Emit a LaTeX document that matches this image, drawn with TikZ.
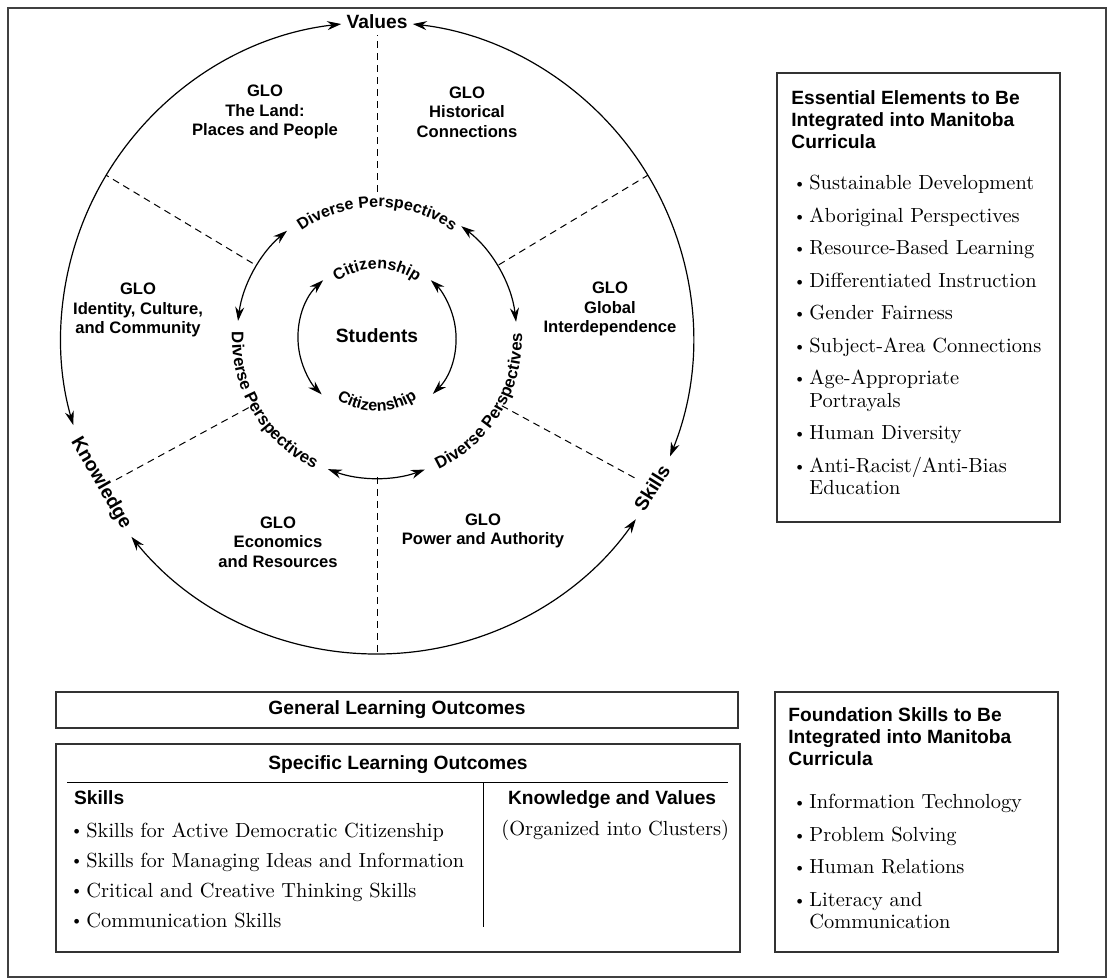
\documentclass[tikz,border=0pt]{standalone}
\usepackage{fontspec}
\setsansfont{Liberation Sans}
\usetikzlibrary{positioning, arrows.meta, decorations.text}

\newcommand{\itm}{\makebox[8pt][l]{\raisebox{0.12ex}{\scalebox{0.8}{\textbullet}}}}
\newcommand{\ind}{\makebox[8pt]{}}
\newcommand{\arcfont}{\sffamily\bfseries\fontsize{8}{9}\selectfont}
\newcommand{\sidefont}{\sffamily\bfseries\fontsize{8.4}{9}\selectfont}

\begin{document}
\begin{tikzpicture}[x=0.5pt, y=0.5pt, >={Stealth[length=7pt,width=4.5pt]},
    ring/.style={line width=0.6pt, <->},
    spoke/.style={line width=0.5pt, dash pattern=on 3.5pt off 2.5pt},
    box/.style={draw=black!80, line width=0.8pt},
    head/.style={font=\sffamily\bfseries\fontsize{9.6}{11}\selectfont},
    glo/.style={align=center, font=\sffamily\bfseries\fontsize{8.3}{9.75}\selectfont},
    list/.style={align=left, inner sep=0pt, anchor=north west},
    arclabel/.style={decorate, decoration={text along path, text align=center, text={|\arcfont|#1}}},
    sidelabel/.style={decorate, decoration={text along path, text align=center, text={|\sidefont|#1}}}]
    \useasboundingbox (0,0) rectangle (1109,980);
    \draw[line width=0.6pt, black!75] (8,3) rectangle (1106,972);

    \coordinate (c) at (377,642);

    % outer ring
    \node[head] (val) at ([shift={(90:316)}]c) {Values};
    \node[head, rotate=-60] (know) at ([shift={(207.7:312)}]c) {Knowledge};
    \node[head, rotate=58] (skl) at ([shift={(-28.6:313)}]c) {Skills};
    \draw[ring] ([shift={(96.5:316)}]c) arc[start angle=96.5, end angle=196, radius=316];
    \draw[ring] ([shift={(219:316)}]c) arc[start angle=219, end angle=325, radius=316];
    \draw[ring] ([shift={(-22:316)}]c) arc[start angle=-22, end angle=83.5, radius=316];

    % dashed spokes
    \foreach \a/\r/\R in {90/146/303, 149/145/316, 31/142/316, 208.5/146/302, 331.5/142/298, 270/139/318}
        \draw[spoke] ([shift={(\a:\r)}]c) -- ([shift={(\a:\R)}]c);

    % diverse perspectives ring
    \draw[ring] ([shift={(130:140)}]c) arc[start angle=130, end angle=173, radius=140];
    \draw[ring] ([shift={(249.5:140)}]c) arc[start angle=249.5, end angle=290, radius=140];
    \draw[ring] ([shift={(6.6:140)}]c) arc[start angle=6.6, end angle=53, radius=140];
    \path[arclabel=Diverse Perspectives] ([shift={(150:131)}]c) arc[start angle=150, end angle=30, radius=131];
    \path[sidelabel=Diverse Perspectives] ([shift={(151:145)}]c) arc[start angle=151, end angle=271, radius=145];
    \path[sidelabel=Diverse Perspectives] ([shift={(268.5:145)}]c) arc[start angle=268.5, end angle=388.5, radius=145];

    % citizenship ring
    \draw[ring] ([shift={(133:79)}]c) arc[start angle=133, end angle=225.5, radius=79];
    \draw[ring] ([shift={(-45:79)}]c) arc[start angle=-45, end angle=47, radius=79];
    \path[arclabel=Citizenship] ([shift={(150:69)}]c) arc[start angle=150, end angle=30, radius=69];
    \path[arclabel=Citizenship] ([shift={(210:73)}]c) arc[start angle=210, end angle=330, radius=73];
    \node[head] (stu) at (377,644) {Students};

    % GLO sectors
    \node[glo] (land) at (265,868) {GLO\\The Land:\\Places and People};
    \node[glo] (hist) at (467,868) {GLO\\Historical\\Connections};
    \node[glo] (iden) at (138,670) {GLO\\Identity, Culture,\\and Community};
    \node[glo] (glob) at (610,671) {GLO\\Global\\Interdependence};
    \node[glo] (econ) at (278,438) {GLO\\Economics\\and Resources};
    \node[glo] (powr) at (483,449) {GLO\\Power and Authority};

    % essential elements
    \draw[box] (777,907) rectangle (1060,458);
    \node[head, list] (esshd) at (791,890) {Essential Elements to Be\\Integrated into Manitoba\\Curricula};
    \node[list, font=\fontsize{10.2}{11.25}\selectfont] (esslst) at (793,805) {%
        \itm Sustainable Development\\[5pt]
        \itm Aboriginal Perspectives\\[5pt]
        \itm Resource-Based Learning\\[5pt]
        \itm Differentiated Instruction\\[5pt]
        \itm Gender Fairness\\[5pt]
        \itm Subject-Area Connections\\[5pt]
        \itm Age-Appropriate\\\ind Portrayals\\[5pt]
        \itm Human Diversity\\[5pt]
        \itm Anti-Racist/Anti-Bias\\\ind Education};

    % outcomes
    \draw[box] (56,288) rectangle (738,252);
    \node[head] (gen) at (397,270) {General Learning Outcomes};
    \draw[box] (56,236) rectangle (740,28);
    \node[head] (spec) at (398,215) {Specific Learning Outcomes};
    \draw[line width=0.5pt] (67,197) -- (728,197);
    \draw[line width=0.5pt] (483,197) -- (483,53);
    \node[head, anchor=base west] (skhd) at (67,175) {Skills};
    \node[head, anchor=base west] (kvhd) at (501,175) {Knowledge and Values};
    \node[list, font=\fontsize{10.2}{15}\selectfont] (sklst) at (70,158) {%
        \itm Skills for Active Democratic Citizenship\\
        \itm Skills for Managing Ideas and Information\\
        \itm Critical and Creative Thinking Skills\\
        \itm Communication Skills};
    \node[anchor=base west, inner sep=0pt, font=\fontsize{10.2}{12}\selectfont] (kvlst) at (501,144) {(Organized into Clusters)};

    % foundation skills
    \draw[box] (775,288) rectangle (1058,28);
    \node[head, list] (fndhd) at (788,273) {Foundation Skills to Be\\Integrated into Manitoba\\Curricula};
    \node[list, font=\fontsize{10.2}{11.25}\selectfont] (fndlst) at (793,186) {%
        \itm Information Technology\\[5pt]
        \itm Problem Solving\\[5pt]
        \itm Human Relations\\[5pt]
        \itm Literacy and\\\ind Communication};
\end{tikzpicture}
\end{document}
